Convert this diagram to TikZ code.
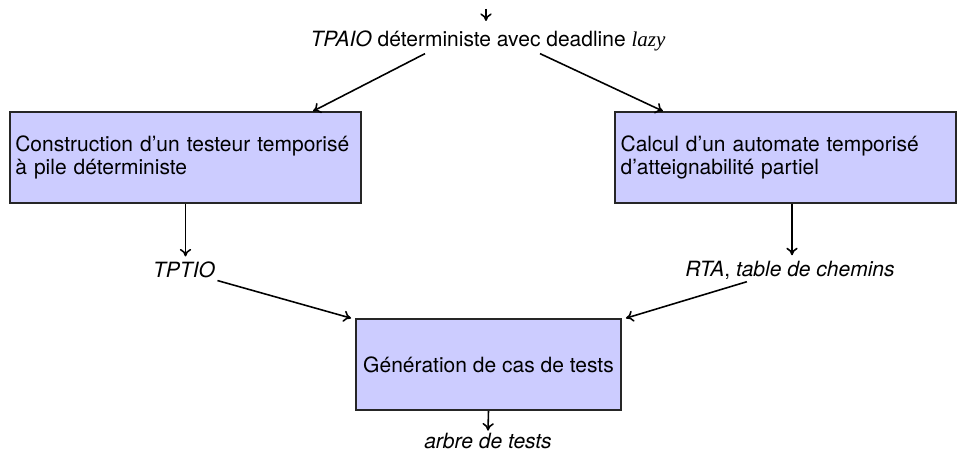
\documentclass[tikz,border=0pt]{standalone}
\usepackage{fontspec}
\setmainfont{TeX Gyre Heros}
\newfontfamily\timesfont{Liberation Serif}
\usetikzlibrary{arrows.meta,calc}
\definecolor{boxfill}{RGB}{204,204,255}
\tikzset{
  procbox/.style={draw=black!85, line width=0.8pt, fill=boxfill, rectangle,
    minimum height=43.3pt, inner xsep=2.5pt, align=left,
    font=\fontsize{10}{11}\selectfont},
  datalabel/.style={inner sep=1pt, font=\fontsize{10}{11}\selectfont},
  flow/.style={-{To[length=3.6pt,width=5.4pt]}, line width=0.75pt}
}
\begin{document}
\begin{tikzpicture}[x=0.476pt,y=-0.476pt]
  \useasboundingbox (0,0) rectangle (957,458);

  % input model
  \coordinate (in) at (486,9);
  \coordinate (inend) at (486,21);
  \node[datalabel] (tpaio) at (488,41) {\itshape TPAIO\/\upshape{} déterministe avec deadline {\timesfont\itshape lazy}};

  % two processing steps
  \node[procbox, minimum width=167pt, text width=162pt] (tester) at (185.5,157.5)
    {Construction d’un testeur temporisé\\ à pile déterministe};
  \node[procbox, minimum width=162.4pt, text width=157pt] (reach) at (785.5,157.5)
    {Calcul d’un automate temporisé\\ d’atteignabilité partiel};

  % intermediate results
  \node[datalabel] (tptio) at (184,270) {\itshape TPTIO};
  \node[datalabel] (rta) at (790,270) {\itshape RTA\upshape, \itshape table de chemins};

  % test generation
  \node[procbox, minimum width=126.2pt, align=center] (gen) at (488.5,364.5)
    {Génération de cas de tests};
  \node[datalabel] (tree) at (488,441) {\itshape arbre de tests};

  % connectors
  \draw[flow] (in) -- (inend);
  \draw[flow] ($(tpaio.south)+(-63,0)$) -- (313,0 |- tester.north);
  \draw[flow] ($(tpaio.south)+(52,0)$) -- (663,0 |- reach.north);
  \draw[flow] (tester.south) -- ($(tptio.north -| tester.south)+(0,-3)$);
  \draw[flow] (792,0 |- reach.south) -- ($(792,0 |- rta.north)+(0,-3)$);
  \draw[flow] (tptio.south east) -- ($(gen.north west)+(-4,0)$);
  \draw[flow] ($(rta.south west)+(64,0)$) -- ($(gen.north east)+(4,0)$);
  \draw[flow] (gen.south) -- (tree.north);
\end{tikzpicture}
\end{document}
